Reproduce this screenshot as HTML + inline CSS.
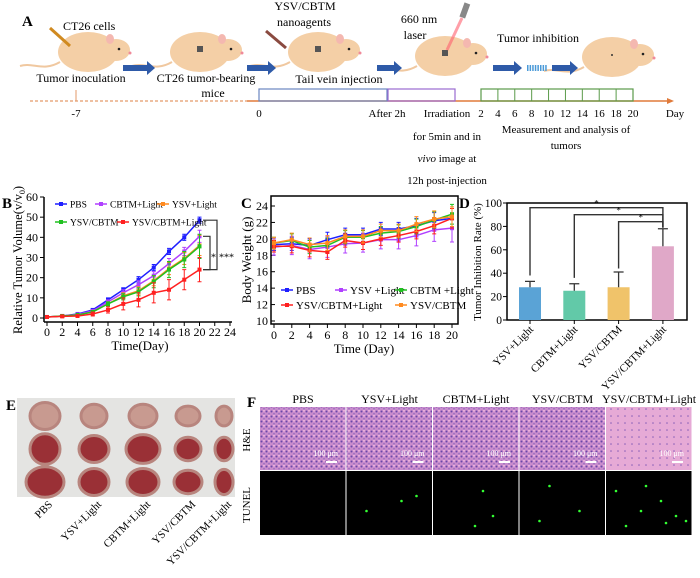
<!DOCTYPE html>
<html><head><meta charset="utf-8"><style>
body{margin:0;background:#fff}
svg{display:block;font-family:"Liberation Serif",serif}
</style></head><body>
<svg id="fig" width="700" height="578" viewBox="0 0 700 578" xmlns="http://www.w3.org/2000/svg">
<defs>
<pattern id="he" width="5" height="5" patternUnits="userSpaceOnUse"><rect width="5" height="5" fill="#c98ccd"/><circle cx="1.5" cy="1.5" r="1" fill="#6a48a8"/><circle cx="4" cy="3.8" r="0.7" fill="#8060b8"/><rect x="3" y="0" width="2" height="1.5" fill="#e8b0dc"/></pattern>
<pattern id="he2" width="7" height="7" patternUnits="userSpaceOnUse"><rect width="7" height="7" fill="#e6aad6"/><circle cx="2" cy="3" r="0.8" fill="#8a60b8"/></pattern>
</defs>
<!-- Panel A -->
<g>
<text x="22" y="26" font-weight="bold" font-size="15">A</text>
<g id="mice"></g>
<text x="63" y="30" font-size="12">CT26 cells</text>
<text x="305" y="10" font-size="12" text-anchor="middle">YSV/CBTM</text>
<text x="304" y="26" font-size="12" text-anchor="middle">nanoagents</text>
<text x="419" y="23" font-size="12" text-anchor="middle">660 nm</text>
<text x="415" y="39" font-size="12" text-anchor="middle">laser</text>
<text x="538" y="42" font-size="12" text-anchor="middle">Tumor inhibition</text>
<text x="81" y="82" font-size="12" text-anchor="middle">Tumor inoculation</text>
<text x="206" y="82" font-size="12" text-anchor="middle">CT26 tumor-bearing</text>
<text x="213" y="97" font-size="12" text-anchor="middle">mice</text>
<text x="339" y="83" font-size="12" text-anchor="middle">Tail vein injection</text>
<line x1="30" y1="101" x2="247" y2="101" stroke="#e39a6a" stroke-width="1.2" stroke-dasharray="3,2"/>
<line x1="247" y1="101" x2="667" y2="101" stroke="#e07a3a" stroke-width="1.5"/>
<polygon points="667,98 674,101 667,104" fill="#e07a3a"/>
<line x1="76" y1="90" x2="76" y2="101" stroke="#e39a6a"/>
<rect x="259" y="89" width="128" height="12" fill="none" stroke="#6a86c0" stroke-width="1.2"/>
<rect x="388" y="89" width="67" height="12" fill="none" stroke="#9a6ad0" stroke-width="1.2"/>
<g id="greenbox"></g>
<g font-size="11">
<text x="76" y="117" text-anchor="middle">-7</text>
<text x="259" y="117" text-anchor="middle">0</text>
<text x="387" y="117" text-anchor="middle">After 2h</text>
<text x="447" y="117" text-anchor="middle">Irradiation</text>
<text x="447" y="140" text-anchor="middle">for 5min and in</text>
<text x="447" y="162" text-anchor="middle"><tspan font-style="italic">vivo</tspan> image at</text>
<text x="447" y="184" text-anchor="middle">12h post-injection</text>
<text x="566" y="133" text-anchor="middle">Measurement and analysis of</text>
<text x="566" y="149" text-anchor="middle">tumors</text>
<text x="675" y="117" text-anchor="middle">Day</text>
</g>
<g id="daylabels" font-size="11"></g>
</g>

<!-- Panel B -->
<g id="panelB">
<text x="2" y="208" font-weight="bold" font-size="15">B</text>
</g>
<!-- Panel C -->
<g id="panelC">
<text x="241" y="208" font-weight="bold" font-size="15">C</text>
</g>
<!-- Panel D -->
<g id="panelD">
<text x="459" y="208" font-weight="bold" font-size="15">D</text>
</g>

<!-- Panel E -->
<g>
<text x="6" y="410" font-weight="bold" font-size="15">E</text>
<rect x="17" y="398" width="218" height="99" fill="#e4e4e2"/>
<g id="tumors"></g>
<g id="elabels" font-size="11"></g>
</g>

<!-- Panel F -->
<g>
<text x="247" y="407" font-weight="bold" font-size="15">F</text>
<text x="250" y="440" font-size="11" transform="rotate(-90 250 440)" text-anchor="middle">H&amp;E</text>
<text x="250" y="505" font-size="11" transform="rotate(-90 250 505)" text-anchor="middle">TUNEL</text>
<g id="fimgs"></g>
</g>
</svg>
<script>
// ---------- Panel B data ----------
const bDays=[0,2,4,6,8,10,12,14,16,18,20];
const bNames=["PBS","CBTM+Light","YSV+Light","YSV/CBTM","YSV/CBTM+Light"];
const bColors=["#1f1fff","#b040ff","#ff8a20","#20c020","#ff2020"];
const bPBS=[0.5,1,2,4,9,14,19,25,33,40,48.5];
const bCBTML=[0.5,1,1.8,3.5,8,12.5,16.5,21,27,33,40.5];
const bYSVL=[0.5,1,1.5,3,7,11,13.5,18.5,24.5,29.5,36];
const bYSVCBTM=[0.5,1,1.5,3,7,10.5,13,18,24,29,35.5];
const bYCL=[0.5,0.8,1,2,4,7,9,12.5,14,19,24];
const bErrPBS=[0.3,0.3,0.5,0.6,1,1,1.5,1.5,1.5,1.5,1.5];
const bErrCBTML=[0.3,0.3,0.5,0.6,1,1.5,2,2,2.5,2,3];
const bErrYSVL=[0.3,0.3,0.5,0.6,1,1.5,2,2.5,3,3,5];
const bErrYSVCBTM=[0.3,0.3,0.5,0.6,1,1.5,2,3,4,4,6];
const bErrYCL=[0.3,0.3,0.5,1,1.5,3,3.5,5,5,5,6];
const bXTicks=[0,2,4,6,8,10,12,14,16,18,20,22,24];
const bYTicks=[0,10,20,30,40,50,60];
// ---------- Panel C data ----------
const cDays=[0,2,4,6,8,10,12,14,16,18,20];
const cNames=["PBS","YSV +Light","CBTM +Light","YSV/CBTM+Light","YSV/CBTM"];
const cColors=["#1f1fff","#b040ff","#20c020","#ff2020","#ff8a20"];
const cPBS=[19.3,19.4,19.2,19.9,20.5,20.5,21.2,21.2,21.6,22.2,22.5];
const cYSVL=[19.0,19.2,18.7,19.0,19.4,19.5,19.9,19.9,20.4,21.1,21.3];
const cCBTML=[19.5,19.8,19.0,19.2,20.2,20.2,20.7,20.9,21.5,22.3,23.0];
const cYCL=[19.1,19.1,18.6,18.4,19.8,19.5,20.0,20.4,20.9,21.6,22.5];
const cYSVCBTM=[19.5,19.9,19.3,19.5,20.3,20.3,21.0,21.0,21.8,22.4,22.7];
const cErr=[0.7,0.8,0.8,0.9,0.8,0.8,0.8,0.8,0.9,1.0,1.2];
const cXTicks=[0,2,4,6,8,10,12,14,16,18,20];
const cYTicks=[10,12,14,16,18,20,22,24];
// ---------- Panel D data ----------
const dCats=["YSV+Light","CBTM+Light","YSV/CBTM","YSV/CBTM+Light"];
const dVals=[28,25,28,63];
const dErrs=[5,6,13,15];
const dColors=["#5aa3d6","#62c9a8","#f0c36a","#e0a8c8"];
const dYTicks=[0,20,40,60,80,100];

const NS="http://www.w3.org/2000/svg";
function mk(parent,tag,attrs,text){const e=document.createElementNS(NS,tag);for(const k in attrs)e.setAttribute(k,attrs[k]);if(text!==undefined)e.textContent=text;parent.appendChild(e);return e;}

// ---- Panel A graphics ----
const mice=document.getElementById('mice');
const mousePos=[[88,52],[200,52],[318,52],[445,56],[612,57]];
mousePos.forEach((p,i)=>{
  const g=mk(mice,'g',{});
  
  
  mk(g,'path',{d:`M${p[0]-28},${p[1]+10} C${p[0]-45},${p[1]+20} ${p[0]-55},${p[1]+10} ${p[0]-68},${p[1]+14}`,fill:'none',stroke:'#f0c8a0','stroke-width':2});
  mk(g,'ellipse',{cx:p[0],cy:p[1],rx:30,ry:20,fill:'#f4cfa6'});
  mk(g,'ellipse',{cx:p[0]+28,cy:p[1]-2,rx:14,ry:11,fill:'#f4cfa6'});
  mk(g,'ellipse',{cx:p[0]+22,cy:p[1]-13,rx:4,ry:5,fill:'#f4b8b0'});
  mk(g,'circle',{cx:p[0]+31,cy:p[1]-3,r:1.3,fill:'#222'});
  mk(g,'circle',{cx:p[0]+42,cy:p[1]+1,r:1.5,fill:'#f08a9a'});
  if(i>0&&i<4) mk(g,'rect',{x:p[0]-3,y:p[1]-6,width:6,height:6,fill:'#555'});
  if(i==4) mk(g,'circle',{cx:p[0],cy:p[1]-2,r:1,fill:'#333'});
});
mk(mice,'line',{x1:50,y1:28,x2:70,y2:46,stroke:'#d08a20','stroke-width':3});
mk(mice,'line',{x1:266,y1:31,x2:286,y2:48,stroke:'#8a4a40','stroke-width':3});
mk(mice,'rect',{x:462,y:3,width:6,height:15,fill:'#888',transform:'rotate(20 465 10)'});
mk(mice,'line',{x1:462,y1:18,x2:447,y2:50,stroke:'#ff6070','stroke-width':3,opacity:0.6});
[[123,155],[247,276],[377,402],[493,522],[552,578]].forEach((a,i)=>{
  const g=mk(mice,'g',{});
  
  
  mk(g,'rect',{x:a[0],y:65,width:a[1]-a[0]-7,height:6,fill:'#2e5aa8'});
  mk(g,'polygon',{points:`${a[1]-8},61 ${a[1]},68 ${a[1]-8},75`,fill:'#2e5aa8'});
});
for(let k=0;k<8;k++) mk(mice,'rect',{x:527+k*2.6,y:65,width:1.5,height:6,fill:'#4a9ad8'});
const gb=document.getElementById('greenbox');
const dayTicks=[2,4,6,8,10,12,14,16,18,20];
const dayX=d=>481+(d-2)*(633-481)/18;
mk(gb,'rect',{x:481,y:89,width:152,height:12,fill:'none',stroke:'#5a9a4a','stroke-width':1.2});
dayTicks.forEach(d=>{mk(gb,'line',{x1:dayX(d),y1:89,x2:dayX(d),y2:101,stroke:'#5a9a4a'});});
const dl=document.getElementById('daylabels');
dayTicks.forEach(d=>{const t=mk(dl,'text',{x:dayX(d),y:117,'text-anchor':'middle'},d);

});

// ---- Panel B ----
(function(){
const P=document.getElementById('panelB');
const x=v=>47+v*(230-47)/24, y=v=>318-v*(318-197)/60;
mk(P,'line',{x1:44,y1:197,x2:44,y2:322,stroke:'#000','stroke-width':1.5});
mk(P,'line',{x1:44,y1:322,x2:232,y2:322,stroke:'#000','stroke-width':1.5});
bYTicks.forEach(t=>{mk(P,'line',{x1:40,y1:y(t),x2:44,y2:y(t),stroke:'#000'});
const l=mk(P,'text',{x:38,y:y(t)+4,'font-size':12,'text-anchor':'end'},t);

});
bXTicks.forEach(t=>{mk(P,'line',{x1:x(t),y1:322,x2:x(t),y2:326,stroke:'#000'});
const l=mk(P,'text',{x:x(t),y:336,'font-size':12,'text-anchor':'middle'},t);

});
const xl=mk(P,'text',{x:140,y:350,'font-size':13,'text-anchor':'middle'},'Time(Day)');


const yl=mk(P,'text',{x:22,y:260,'font-size':12.5,'text-anchor':'middle',transform:'rotate(-90 22 260)'});
yl.innerHTML='Relative Tumor Volume(v/v<tspan font-size="8" dy="3">0</tspan><tspan dy="-3">)</tspan>';


const series=[bPBS,bCBTML,bYSVL,bYSVCBTM,bYCL];
const errs=[bErrPBS,bErrCBTML,bErrYSVL,bErrYSVCBTM,bErrYCL];
series.forEach((s,i)=>{
  const g=mk(P,'g',{});
  
  
  s.forEach((v,j)=>{const e=errs[i][j];mk(g,'path',{d:`M${x(bDays[j])},${y(v+e)}V${y(v-e)}M${x(bDays[j])-2},${y(v+e)}h4M${x(bDays[j])-2},${y(v-e)}h4`,stroke:bColors[i],'stroke-width':1});});
  mk(g,'polyline',{points:s.map((v,j)=>x(bDays[j])+','+y(v)).join(' '),fill:'none',stroke:bColors[i],'stroke-width':1.5});
  s.forEach((v,j)=>{mk(g,'rect',{x:x(bDays[j])-2,y:y(v)-2,width:4,height:4,fill:bColors[i]});});
});
const lp=[[55,204],[95,204],[157,204],[55,222],[117,222]];
bNames.forEach((n,i)=>{const g=mk(P,'g',{});


mk(g,'line',{x1:lp[i][0],y1:lp[i][1],x2:lp[i][0]+12,y2:lp[i][1],stroke:bColors[i],'stroke-width':1.5});
mk(g,'rect',{x:lp[i][0]+4,y:lp[i][1]-2,width:4,height:4,fill:bColors[i]});
mk(g,'text',{x:lp[i][0]+15,y:lp[i][1]+3.5,'font-size':9.5},n);});
mk(P,'path',{d:`M203,${y(48.5)}H217V${y(24)}H203`,fill:'none',stroke:'#333','stroke-width':1.2});
mk(P,'path',{d:`M203,${y(40.5)}H210V${y(24)}H203`,fill:'none',stroke:'#333','stroke-width':1.2});
mk(P,'text',{x:211,y:y(31)+5,'font-size':10},'*');
mk(P,'text',{x:219,y:y(31)+5,'font-size':10},'***');
})();

// ---- Panel C ----
(function(){
const P=document.getElementById('panelC');
const x=v=>274+v*(452-274)/20, y=v=>321-(v-10)*(321-206)/14;
mk(P,'rect',{x:271,y:196,width:187,height:128,fill:'none',stroke:'#000','stroke-width':1.5});
cYTicks.forEach(t=>{mk(P,'line',{x1:271,y1:y(t),x2:275,y2:y(t),stroke:'#000'});
const l=mk(P,'text',{x:268,y:y(t)+4,'font-size':12,'text-anchor':'end'},t);

});
cXTicks.forEach(t=>{mk(P,'line',{x1:x(t),y1:324,x2:x(t),y2:328,stroke:'#000'});
const l=mk(P,'text',{x:x(t),y:339,'font-size':12,'text-anchor':'middle'},t);

});
const xl=mk(P,'text',{x:364,y:353,'font-size':13,'text-anchor':'middle'},'Time (Day)');


const yl=mk(P,'text',{x:251,y:260,'font-size':13,'text-anchor':'middle',transform:'rotate(-90 251 260)'},'Body Weight (g)');


const series=[cPBS,cYSVL,cCBTML,cYCL,cYSVCBTM];
series.forEach((s,i)=>{
  const g=mk(P,'g',{});
  
  
  s.forEach((v,j)=>{const e=cErr[j]*(i==1?1.4:1);mk(g,'path',{d:`M${x(cDays[j])},${y(v+e)}V${y(v-e)}M${x(cDays[j])-2},${y(v+e)}h4M${x(cDays[j])-2},${y(v-e)}h4`,stroke:cColors[i],'stroke-width':1});});
  mk(g,'polyline',{points:s.map((v,j)=>x(cDays[j])+','+y(v)).join(' '),fill:'none',stroke:cColors[i],'stroke-width':1.5});
  s.forEach((v,j)=>{mk(g,'rect',{x:x(cDays[j])-2,y:y(v)-2,width:4,height:4,fill:cColors[i]});});
});
const lp=[[281,290],[335,290],[395,290],[281,305],[395,305]];
cNames.forEach((n,i)=>{const g=mk(P,'g',{});


mk(g,'line',{x1:lp[i][0],y1:lp[i][1],x2:lp[i][0]+12,y2:lp[i][1],stroke:cColors[i],'stroke-width':1.5});
mk(g,'rect',{x:lp[i][0]+4,y:lp[i][1]-2,width:4,height:4,fill:cColors[i]});
mk(g,'text',{x:lp[i][0]+15,y:lp[i][1]+4,'font-size':11},n);});
})();

// ---- Panel D ----
(function(){
const P=document.getElementById('panelD');
const y=v=>320-v*(320-203)/100;
const xc=i=>530+i*44.3;
mk(P,'rect',{x:507,y:203,width:180,height:117,fill:'none',stroke:'#000','stroke-width':1.5});
dYTicks.forEach(t=>{mk(P,'line',{x1:503,y1:y(t),x2:507,y2:y(t),stroke:'#000'});
const l=mk(P,'text',{x:502,y:y(t)+4,'font-size':11.5,'text-anchor':'end'},t);

});
const yl=mk(P,'text',{x:481,y:262,'font-size':11,'text-anchor':'middle',transform:'rotate(-90 481 262)'},'Tumor Inhibition Rate (%)');


dVals.forEach((v,i)=>{
  const b=mk(P,'rect',{x:xc(i)-11,y:y(v),width:22,height:y(0)-y(v),fill:dColors[i]});
  
  
  mk(P,'path',{d:`M${xc(i)},${y(v)}V${y(v+dErrs[i])}M${xc(i)-5},${y(v+dErrs[i])}h10`,stroke:'#333','stroke-width':1.3});
  mk(P,'line',{x1:xc(i),y1:320,x2:xc(i),y2:324,stroke:'#000'});
  const l=mk(P,'text',{x:xc(i)+4,y:330,'font-size':11,'text-anchor':'end',transform:`rotate(-45 ${xc(i)+4} 330)`},dCats[i]);
  
  
});
const sig=[[0,96],[1,90],[2,84]];
sig.forEach(s=>{const i=s[0];
mk(P,'path',{d:`M${xc(i)},${y(dVals[i]+dErrs[i]+(i==2?3:5))}V${y(s[1])}H${xc(3)}V${y(dVals[3]+dErrs[3]+1)}`,fill:'none',stroke:'#333','stroke-width':1.4});
mk(P,'text',{x:(xc(i)+xc(3))/2,y:y(s[1])-1,'font-size':9,'text-anchor':'middle'},'*');});
})();

// ---- Panel E ----
const eCols=["PBS","YSV+Light","CBTM+Light","YSV/CBTM","YSV/CBTM+Light"];
(function(){
const T=document.getElementById('tumors');
const cxs=[45,94,143,188,224];
const sizes=[[15,15,15,17,19,17],[13,13,15,15,15,15],[14,13,17,16,16,15],[12,11,13,13,14,13],[8,11,9,13,9,14]];
eCols.forEach((c,i)=>{const cx=cxs[i];
 for(let r=0;r<3;r++){const s=sizes[i];const e=mk(T,'ellipse',{cx:cx,cy:416+r*33,rx:s[r*2],ry:s[r*2+1]*0.9,fill:r==0?'#c89a90':'#9a3036',stroke:'#b8857e','stroke-width':3});
 
 }
 const l=mk(document.getElementById('elabels'),'text',{x:cx+8,y:505,'text-anchor':'end',transform:`rotate(-45 ${cx+8} 505)`},c);
 
 
});
})();

// ---- Panel F ----
(function(){
const F=document.getElementById('fimgs');
const dots=[[],[[20,40],[55,30],[70,25]],[[50,20],[60,45],[42,55]],[[30,15],[60,40],[20,50]],[[10,20],[40,15],[55,30],[70,45],[20,55],[60,52],[80,50],[35,40]]];
eCols.forEach((c,i)=>{const x0=260+i*86.5;
 const t=mk(F,'text',{x:x0+43,y:403,'font-size':12,'text-anchor':'middle'},c);
 
 
 const he=mk(F,'rect',{x:x0,y:407,width:85.5,height:63,fill:i==4?'url(#he2)':'url(#he)'});
 
 
 mk(F,'text',{x:x0+78,y:456,'font-size':8,'text-anchor':'end',fill:'#fff'},'100 μm');
 mk(F,'rect',{x:x0+66,y:461,width:11,height:2,fill:'#fff'});
 const tu=mk(F,'rect',{x:x0,y:471,width:85.5,height:64,fill:'#000'});
 
 
 dots[i].forEach(d=>mk(F,'circle',{cx:x0+d[0],cy:471+d[1],r:1.3,fill:'#3f3'}));
});
})();
</script>
</body></html>
